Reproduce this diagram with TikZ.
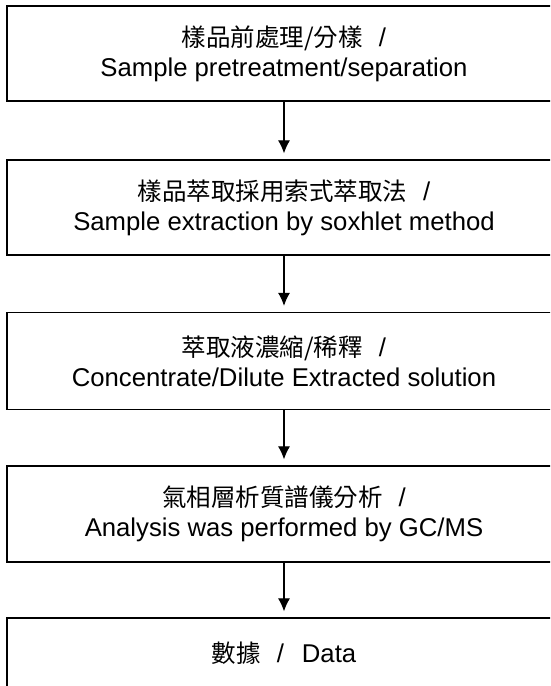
\documentclass[tikz,border=0pt]{standalone}
\usepackage{fontspec}
\setmainfont{Liberation Sans}
\newfontfamily\cjk{Noto Sans CJK TC}
\usetikzlibrary{arrows.meta}
\newcommand{\zh}[1]{{\cjk\fontsize{24.5}{30}\selectfont #1}}
\begin{document}
\begin{tikzpicture}[x=1pt,y=-1pt,
  stepbox/.style={draw=black, line width=1.3pt, rectangle, minimum width=554pt,
    align=center, font=\fontsize{25.7}{30}\selectfont, inner sep=0pt},
  flow/.style={line width=1.1pt, -{Latex[length=13pt,width=12pt]}, shorten >=6pt}
]
\useasboundingbox (0,0) rectangle (550,686);
\clip (0,0) rectangle (550,686);
\fill[white] (0,0) rectangle (550,686);
\node[stepbox, minimum height=95pt] (b1) at (284,53.5)
  {\zh{樣品前處理/分樣}\hspace{16pt}/\\Sample pretreatment/separation};
\node[stepbox, minimum height=95pt] (b2) at (284,207.5)
  {\zh{樣品萃取採用索式萃取法}\hspace{16pt}/\\Sample extraction by soxhlet method};
\node[stepbox, minimum height=97pt] (b3) at (284,361)
  {\zh{萃取液濃縮/稀釋}\hspace{16pt}/\\Concentrate/Dilute Extracted solution};
\node[stepbox, minimum height=96pt] (b4) at (284,514)
  {\zh{氣相層析質譜儀分析}\hspace{16pt}/\\Analysis was performed by GC/MS};
\node[stepbox, minimum height=71pt] (b5) at (284,653.5)
  {\zh{數據}\hspace{16pt}/\hspace{18pt}Data};
\draw[flow] (b1) -- (b2);
\draw[flow] (b2) -- (b3);
\draw[flow] (b3) -- (b4);
\draw[flow] (b4) -- (b5);
\end{tikzpicture}
\end{document}
